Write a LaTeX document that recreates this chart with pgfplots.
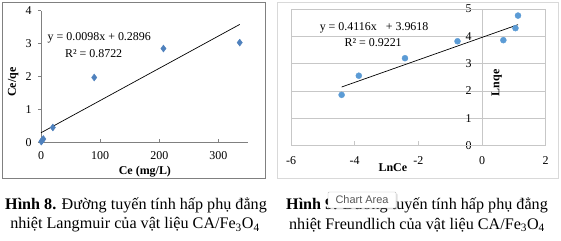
\documentclass[border=0pt]{standalone}
\usepackage{fontspec}
\setmainfont{Liberation Serif}
\newfontfamily\uifont{Liberation Sans}
\usepackage{pgfplots}
\pgfplotsset{compat=1.18}
\usetikzlibrary{shadows}
\definecolor{exblue}{HTML}{4F81BD}
\definecolor{ptblue}{HTML}{5B9BD5}
\begin{document}
\begin{tikzpicture}
\useasboundingbox (0,0) rectangle (561bp,241bp);
\draw[color=black!50, line width=0.8bp] (2.7bp,63bp) rectangle (265bp,238.3bp);
\draw[color=black!15, line width=0.8bp] (277.7bp,63bp) rectangle (558bp,238.3bp);

\begin{axis}[at={(41bp,98.7bp)}, anchor=south west, scale only axis,
  width=207bp, height=131.6bp,
  xmin=0, xmax=350, ymin=0, ymax=4,
  axis x line=bottom, axis y line=left,
  axis line style={-, color=black!50},
  xtick={0,100,200,300}, ytick={0,1,2,3,4},
  tick style={color=black!50, line width=0.5bp}, tick align=outside,
  major tick length=3bp,
  xtick style={yshift=3bp},
  tick label style={font=\fontsize{12}{13}\selectfont},
  xticklabel style={yshift=-5bp, inner sep=1bp},
  yticklabel style={xshift=-3bp},
  /pgf/number format/assume math mode=true,
  xlabel={\textbf{Ce (mg/L)}}, ylabel={\textbf{Ce/qe}},
  xlabel style={at={(axis description cs:0.502,-0.222)}, anchor=center, inner sep=0.5bp, font=\fontsize{12}{13}\selectfont},
  ylabel style={at={(axis description cs:-0.134,0.458)}, anchor=center, font=\fontsize{12}{13}\selectfont},
  clip=false]
\addplot[only marks, mark=diamond*, mark size=3.5bp, color=exblue] coordinates {
 (0.5,0.02) (2,0.06) (4,0.1) (20,0.45) (90,1.97) (207,2.85) (336,3.03)};
\addplot[black, line width=0.7bp] coordinates {(0,0.2896) (336,3.5824)};
\node[font=\fontsize{12}{13}\selectfont] at (axis cs:98.6,3.17) {y = 0.0098x + 0.2896};
\node[font=\fontsize{12}{13}\selectfont] at (axis cs:89,2.71) {R² = 0.8722};
\end{axis}

\begin{axis}[at={(291bp,95.3bp)}, anchor=south west, scale only axis,
  width=254.7bp, height=136.7bp,
  xmin=-6, xmax=2, ymin=0, ymax=5,
  axis x line=bottom, axis y line=middle,
  axis line style={-, color=black!22},
  xtick={-6,-4,-2,0,2}, ytick={0,1,2,3,4,5},
  tick align=inside, major tick length=5bp,
  xtick style={color=black!22, line width=0.5bp},
  ytick style={draw=none},
  ymajorgrids, grid style={color=black!22, line width=0.5bp},
  hide obscured x ticks=false, hide obscured y ticks=false,
  tick label style={font=\fontsize{12}{13}\selectfont},
  xticklabel style={yshift=-7bp},
  yticklabel style={xshift=-7bp},
  /pgf/number format/assume math mode=true,
  xlabel={\textbf{LnCe}}, ylabel={\textbf{Lnqe}},
  xlabel style={at={(axis description cs:0.40,-0.163)}, anchor=center, font=\fontsize{12}{13}\selectfont},
  ylabel style={at={(axis description cs:0.808,0.459)}, anchor=center, rotate=90, font=\fontsize{12}{13}\selectfont},
  clip=false]
\draw[color=black!22, line width=0.5bp] (rel axis cs:0,0) rectangle (rel axis cs:1,1);
\addplot[only marks, mark=*, mark size=3bp, color=ptblue] coordinates {
 (-4.41,1.86) (-3.87,2.56) (-2.42,3.2) (-0.77,3.82) (0.67,3.86) (1.05,4.3) (1.13,4.76)};
\addplot[black, line width=0.7bp] coordinates {(-4.41,2.1466) (1.13,4.4269)};
\node[font=\fontsize{12}{13}\selectfont] at (axis cs:-3.39,4.31) {y = 0.4116x\ \ \ + 3.9618};
\node[font=\fontsize{12}{13}\selectfont] at (axis cs:-3.42,3.76) {R² = 0.9221};
\end{axis}

\node[font=\fontsize{16.2}{18}\selectfont] at (136bp,36bp) {\textbf{Hình 8.} Đường tuyến tính hấp phụ đẳng};
\node[font=\fontsize{16.2}{18}\selectfont] at (135bp,16bp) {nhiệt Langmuir của vật liệu CA/Fe\textsubscript{3}O\textsubscript{4}};
\node[font=\fontsize{16.2}{18}\selectfont] at (417bp,36bp) {\textbf{Hình 9.} Đường tuyến tính hấp phụ đẳng};
\node[font=\fontsize{16.2}{18}\selectfont] at (417bp,16bp) {nhiệt Freundlich của vật liệu CA/Fe\textsubscript{3}O\textsubscript{4}};
\node[draw=black!25, fill=white, drop shadow={opacity=0.25, shadow xshift=1.5bp, shadow yshift=-1.5bp},
  rounded corners=1bp, minimum width=68bp, minimum height=16bp, inner sep=0pt,
  text=black!65, font=\uifont\fontsize{11}{12}\selectfont] at (362bp,41bp) {Chart Area};
\end{tikzpicture}
\end{document}
